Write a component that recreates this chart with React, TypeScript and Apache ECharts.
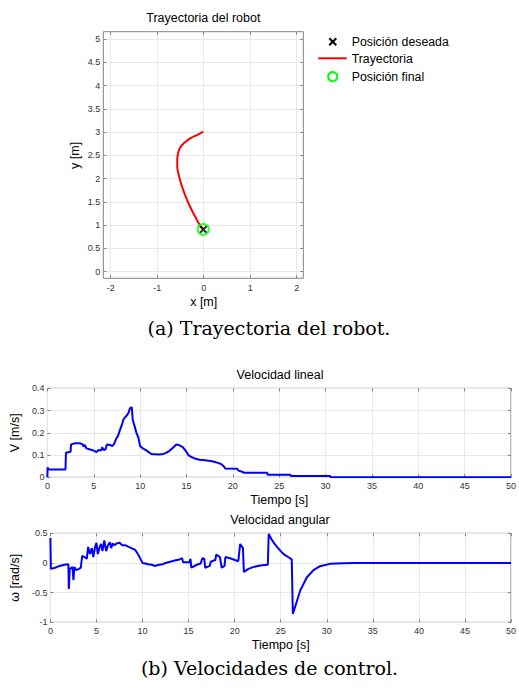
import React, { useEffect, useRef } from "react";
import * as echarts from "echarts";

// ---- Data ----
const trajX = [0, -0.115, -0.26, -0.4, -0.49, -0.54, -0.56, -0.56, -0.53, -0.47, -0.38, -0.27, -0.16, -0.08, 0];
const trajY = [3.0, 2.94, 2.87, 2.77, 2.67, 2.54, 2.4, 2.26, 2.08, 1.86, 1.61, 1.36, 1.15, 1.0, 0.91];
const desiredPos = [0, 0.9];
const finalPos = [0, 0.9];

const vTime = [0, 0.02, 0.1, 1.95, 2.0, 2.5, 2.55, 3.0, 3.5, 3.8, 3.9, 4.05, 4.2, 4.6, 5.0, 5.3, 5.5, 5.8, 5.9, 6.1, 6.3, 6.4, 6.8, 7.0, 7.2, 7.4, 7.6, 7.8, 8.0, 8.2, 8.4, 8.6, 8.75, 8.9, 9.1, 9.2, 9.4, 9.6, 9.8, 10.0, 10.3, 10.7, 11.2, 12.0, 12.5, 12.8, 13.2, 13.6, 13.9, 14.2, 14.6, 14.9, 15.2, 15.6, 16.0, 16.4, 17.0, 17.6, 18.0, 18.4, 18.8, 19.0, 19.2, 20.5, 20.6, 21.0, 21.2, 23.7, 23.75, 26.2, 26.25, 30.5, 30.55, 50];
const vLin = [0, 0.045, 0.035, 0.035, 0.11, 0.115, 0.148, 0.153, 0.153, 0.148, 0.138, 0.145, 0.13, 0.125, 0.12, 0.113, 0.123, 0.12, 0.135, 0.122, 0.128, 0.147, 0.145, 0.14, 0.15, 0.172, 0.185, 0.21, 0.232, 0.26, 0.27, 0.28, 0.29, 0.31, 0.315, 0.26, 0.23, 0.2, 0.18, 0.14, 0.13, 0.12, 0.105, 0.103, 0.105, 0.11, 0.12, 0.135, 0.147, 0.145, 0.135, 0.12, 0.1, 0.09, 0.083, 0.079, 0.077, 0.073, 0.07, 0.065, 0.058, 0.05, 0.039, 0.038, 0.03, 0.025, 0.021, 0.02, 0.012, 0.012, 0.006, 0.006, 0.0, 0.0];

const wTime = [0, 0.05, 0.5, 1.0, 1.5, 1.95, 2.0, 2.1, 2.4, 2.5, 2.6, 2.8, 3.1, 3.3, 3.45, 3.7, 3.95, 4.1, 4.3, 4.5, 4.65, 4.85, 5.0, 5.15, 5.35, 5.5, 5.65, 5.85, 6.05, 6.25, 6.45, 6.6, 6.75, 6.95, 7.2, 7.5, 7.8, 8.1, 8.5, 8.8, 9.2, 9.5, 9.8, 10.0, 10.3, 10.6, 11.0, 11.3, 11.8, 12.2, 12.5, 13.0, 13.5, 14.0, 14.3, 14.4, 15.1, 15.2, 15.3, 15.9, 16.3, 16.5, 16.7, 16.8, 17.3, 17.4, 17.9, 18.0, 18.4, 18.6, 18.9, 19.0, 19.5, 20.4, 20.6, 20.9, 21.0, 21.5, 22.0, 22.5, 23.0, 23.6, 23.7, 24.0, 24.3, 24.6, 25.0, 25.4, 25.8, 26.2, 26.32, 26.6, 27.13, 27.85, 28.56, 29.27, 30.33, 31.76, 33.0, 50];
const wAng = [0.42, -0.1, -0.08, -0.05, -0.03, -0.02, -0.44, -0.1, -0.07, -0.29, -0.07, -0.12, -0.1, -0.08, 0.12, 0.1, 0.07, 0.27, 0.15, 0.25, 0.1, 0.27, 0.34, 0.15, 0.27, 0.32, 0.2, 0.38, 0.2, 0.3, 0.35, 0.25, 0.33, 0.3, 0.33, 0.34, 0.3, 0.3, 0.27, 0.25, 0.22, 0.15, 0.06, 0.0, -0.01, -0.02, -0.03, -0.05, -0.03, -0.02, 0.0, 0.02, 0.04, 0.06, 0.08, 0.01, 0.01, 0.07, -0.08, -0.03, -0.01, 0.08, 0.07, -0.08, -0.05, 0.02, 0.05, 0.14, 0.1, -0.08, -0.05, 0.1, 0.08, 0.03, 0.32, 0.25, -0.15, -0.1, -0.07, -0.05, -0.04, -0.03, 0.49, 0.4, 0.33, 0.27, 0.2, 0.14, 0.1, 0.06, -0.86, -0.72, -0.46, -0.24, -0.12, -0.055, -0.015, -0.004, 0, 0];

const SANS = "Liberation Sans, Arial, Helvetica, sans-serif";
const SERIF = "DejaVu Serif, Liberation Serif, serif";
const FRAME = "#808080";
const GRIDC = "#e8e8e8";
const LABELC = "#333333";

function mainAxis(gridIndex: number, position: string, extra: any) {
  return {
    type: "value",
    gridIndex,
    position,
    axisLine: { show: false, onZero: false },
    axisTick: { show: true, inside: true, length: 3, lineStyle: { color: FRAME, width: 1 } },
    axisLabel: { show: true, color: LABELC, fontFamily: SANS, fontSize: 9, margin: 4 },
    splitLine: { show: true, lineStyle: { color: GRIDC, width: 1 } },
    nameTextStyle: { fontFamily: SANS, fontSize: 12.5, color: "#000" },
    nameLocation: "middle",
    ...extra,
  };
}
function mirrorAxis(gridIndex: number, position: string, extra: any) {
  return {
    type: "value",
    gridIndex,
    position,
    axisLine: { show: false, onZero: false },
    axisTick: { show: true, inside: true, length: 3, lineStyle: { color: FRAME, width: 1 } },
    axisLabel: { show: false },
    splitLine: { show: false },
    ...extra,
  };
}
function hiddenAxis(gridIndex: number, extra: any) {
  return {
    type: "value",
    gridIndex,
    show: false,
    axisLine: { show: false, onZero: false },
    splitLine: { show: false },
    ...extra,
  };
}

export default function App() {
  const ref = useRef<HTMLDivElement>(null);
  useEffect(() => {
    const chart = echarts.init(ref.current!, null, { renderer: "svg" });
    const trajData = trajX.map((x, i) => [x, trajY[i]]);
    const vData = vTime.map((t, i) => [t, vLin[i]]);
    const wData = wTime.map((t, i) => [t, wAng[i]]);

    const option: any = {
      animation: false,
      backgroundColor: "#ffffff",
      grid: [
        // 0: trajectory data area (frame)
        { left: 103.3, top: 31.7, width: 200, height: 246.6, show: true, borderColor: FRAME, borderWidth: 1, backgroundColor: "transparent" },
        // 1: linear velocity
        { left: 45.7, top: 388.3, width: 468.6, height: 89, show: true, borderColor: FRAME, borderWidth: 1 },
        // 2: angular velocity
        { left: 45.7, top: 533.3, width: 468.6, height: 89, show: true, borderColor: FRAME, borderWidth: 1 },
        // 3: trajectory x ticks (x from -2 to 2, full frame height)
        { left: 110.7, top: 31.7, width: 186, height: 246.6, show: false },
        // 4: trajectory y ticks (y from 0 to 5, full frame width)
        { left: 103.3, top: 39, width: 200, height: 232.7, show: false },
      ],
      xAxis: [
        hiddenAxis(0, { min: -2.15, max: 2.15 }),
        mainAxis(3, "bottom", { min: -2, max: 2, interval: 1, name: "x [m]", nameGap: 17, axisLabel: { color: LABELC, fontFamily: SANS, fontSize: 9, margin: 5 } }),
        mirrorAxis(3, "top", { min: -2, max: 2, interval: 1 }),
        mainAxis(1, "bottom", { min: 0, max: 50, interval: 5, name: "Tiempo [s]", nameGap: 16 }),
        mirrorAxis(1, "top", { min: 0, max: 50, interval: 5 }),
        mainAxis(2, "bottom", { min: 0, max: 50, interval: 5, name: "Tiempo [s]", nameGap: 16 }),
        mirrorAxis(2, "top", { min: 0, max: 50, interval: 5 }),
        hiddenAxis(4, { min: 0, max: 1 }),
      ],
      yAxis: [
        hiddenAxis(0, { min: -0.15, max: 5.15 }),
        mainAxis(4, "left", { min: 0, max: 5, interval: 0.5, name: "y [m]", nameGap: 22, axisLabel: { color: LABELC, fontFamily: SANS, fontSize: 9, margin: 3 } }),
        mirrorAxis(4, "right", { min: 0, max: 5, interval: 0.5 }),
        mainAxis(1, "left", { min: 0, max: 0.4, interval: 0.1, name: "V [m/s]", nameGap: 22, axisLabel: { color: LABELC, fontFamily: SANS, fontSize: 9, margin: 3 } }),
        mirrorAxis(1, "right", { min: 0, max: 0.4, interval: 0.1 }),
        mainAxis(2, "left", { min: -1, max: 0.5, interval: 0.5, name: "ω [rad/s]", nameGap: 24, axisLabel: { color: LABELC, fontFamily: SANS, fontSize: 9, margin: 3 } }),
        mirrorAxis(2, "right", { min: -1, max: 0.5, interval: 0.5 }),
        hiddenAxis(3, { min: 0, max: 1 }),
      ],
      series: [
        {
          name: "Trayectoria",
          type: "line",
          xAxisIndex: 0,
          yAxisIndex: 0,
          data: trajData,
          smooth: true,
          showSymbol: false,
          symbol: "none",
          lineStyle: { color: "#ff0000", width: 2 },
          z: 3,
        },
        {
          name: "Posición deseada",
          type: "scatter",
          xAxisIndex: 0,
          yAxisIndex: 0,
          data: [desiredPos],
          symbol: "path://M0,0L10,10M10,0L0,10",
          symbolSize: 7,
          itemStyle: { color: "none", borderColor: "#000000", borderWidth: 2 },
          z: 4,
        },
        {
          name: "Posición final",
          type: "scatter",
          xAxisIndex: 0,
          yAxisIndex: 0,
          data: [finalPos],
          symbol: "circle",
          symbolSize: 11,
          itemStyle: { color: "none", borderColor: "#00ff00", borderWidth: 2 },
          z: 5,
        },
        {
          name: "Velocidad lineal",
          type: "line",
          xAxisIndex: 3,
          yAxisIndex: 3,
          data: vData,
          showSymbol: false,
          symbol: "none",
          lineStyle: { color: "#0000ff", width: 2 },
        },
        {
          name: "Velocidad angular",
          type: "line",
          xAxisIndex: 5,
          yAxisIndex: 5,
          data: wData,
          showSymbol: false,
          symbol: "none",
          lineStyle: { color: "#0000ff", width: 2 },
        },
      ],
      graphic: [
        { type: "text", x: 203.3, y: 18.3, style: { text: "Trayectoria del robot", fontFamily: SANS, fontSize: 12.5, fill: "#000", align: "center", verticalAlign: "middle" } },
        { type: "text", x: 280, y: 375, style: { text: "Velocidad lineal", fontFamily: SANS, fontSize: 12.5, fill: "#000", align: "center", verticalAlign: "middle" } },
        { type: "text", x: 280, y: 520, style: { text: "Velocidad angular", fontFamily: SANS, fontSize: 12.5, fill: "#000", align: "center", verticalAlign: "middle" } },
        { type: "text", x: 269, y: 328, style: { text: "(a) Trayectoria del robot.", fontFamily: SERIF, fontSize: 19, fill: "#000", align: "center", verticalAlign: "middle" } },
        { type: "text", x: 269.5, y: 668, style: { text: "(b) Velocidades de control.", fontFamily: SERIF, fontSize: 19, fill: "#000", align: "center", verticalAlign: "middle" } },
        // legend
        { type: "line", shape: { x1: 329.3, y1: 38.2, x2: 336.3, y2: 45.2 }, style: { stroke: "#000", lineWidth: 2 } },
        { type: "line", shape: { x1: 329.3, y1: 45.2, x2: 336.3, y2: 38.2 }, style: { stroke: "#000", lineWidth: 2 } },
        { type: "line", shape: { x1: 318.3, y1: 58.3, x2: 346.7, y2: 58.3 }, style: { stroke: "#ff0000", lineWidth: 2 } },
        { type: "circle", shape: { cx: 332.7, cy: 76.7, r: 4.6 }, style: { stroke: "#00ff00", fill: "none", lineWidth: 2 } },
        { type: "text", x: 351.7, y: 41.7, style: { text: "Posición deseada", fontFamily: SANS, fontSize: 12.3, fill: "#000", verticalAlign: "middle" } },
        { type: "text", x: 351.7, y: 59, style: { text: "Trayectoria", fontFamily: SANS, fontSize: 12.3, fill: "#000", verticalAlign: "middle" } },
        { type: "text", x: 351.7, y: 76.7, style: { text: "Posición final", fontFamily: SANS, fontSize: 12.3, fill: "#000", verticalAlign: "middle" } },
      ],
    };
    chart.setOption(option);
    return () => chart.dispose();
  }, []);
  return (
    <div
      ref={ref}
      style={{ position: "fixed", left: 0, top: 0, width: 519, height: 694, background: "#ffffff" }}
    />
  );
}
